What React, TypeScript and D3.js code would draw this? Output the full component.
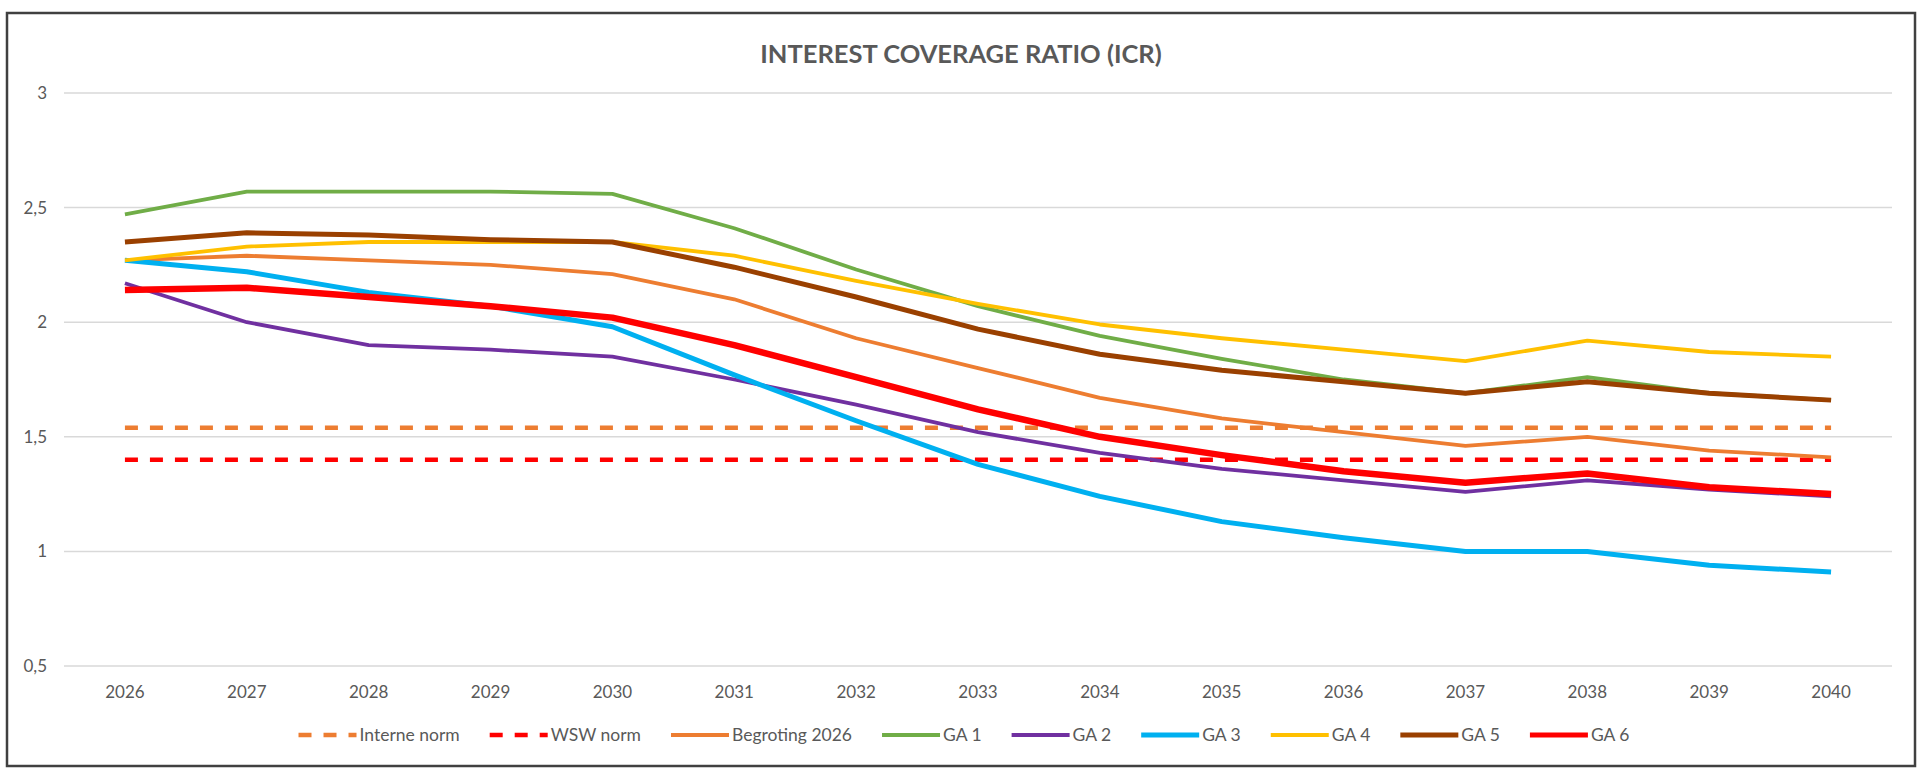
import React, {useRef, useEffect} from 'react'
import * as d3 from 'd3'

const years = ['2026', '2027', '2028', '2029', '2030', '2031', '2032', '2033', '2034', '2035', '2036', '2037', '2038', '2039', '2040']
const yTicks = [0.5, 1, 1.5, 2, 2.5, 3]

const interneNorm = [1.54, 1.54, 1.54, 1.54, 1.54, 1.54, 1.54, 1.54, 1.54, 1.54, 1.54, 1.54, 1.54, 1.54, 1.54]
const wswNorm = [1.4, 1.4, 1.4, 1.4, 1.4, 1.4, 1.4, 1.4, 1.4, 1.4, 1.4, 1.4, 1.4, 1.4, 1.4]
const begroting2026 = [2.27, 2.29, 2.27, 2.25, 2.21, 2.1, 1.93, 1.8, 1.67, 1.58, 1.52, 1.46, 1.5, 1.44, 1.41]
const ga1 = [2.47, 2.57, 2.57, 2.57, 2.56, 2.41, 2.23, 2.07, 1.94, 1.84, 1.75, 1.69, 1.76, 1.69, 1.66]
const ga2 = [2.17, 2.0, 1.9, 1.88, 1.85, 1.75, 1.64, 1.52, 1.43, 1.36, 1.31, 1.26, 1.31, 1.27, 1.24]
const ga3 = [2.27, 2.22, 2.13, 2.07, 1.98, 1.77, 1.57, 1.38, 1.24, 1.13, 1.06, 1.0, 1.0, 0.94, 0.91]
const ga4 = [2.27, 2.33, 2.35, 2.35, 2.35, 2.29, 2.18, 2.08, 1.99, 1.93, 1.88, 1.83, 1.92, 1.87, 1.85]
const ga5 = [2.35, 2.39, 2.38, 2.36, 2.35, 2.24, 2.11, 1.97, 1.86, 1.79, 1.74, 1.69, 1.74, 1.69, 1.66]
const ga6 = [2.14, 2.15, 2.11, 2.07, 2.02, 1.9, 1.76, 1.62, 1.5, 1.42, 1.35, 1.3, 1.34, 1.28, 1.25]

const seriesNames = ['Interne norm', 'WSW norm', 'Begroting 2026', 'GA 1', 'GA 2', 'GA 3', 'GA 4', 'GA 5', 'GA 6']
const seriesValues = [interneNorm, wswNorm, begroting2026, ga1, ga2, ga3, ga4, ga5, ga6]
const seriesColors = ['#ED7D31', '#FF0000', '#ED7D31', '#70AD47', '#7030A0', '#00B0F0', '#FFC000', '#9A4000', '#FF0000']
const seriesWidths = [4.5, 4.5, 3.8, 3.8, 3.8, 5, 3.8, 5, 6.5]
const seriesDash = ['13 12', '13 12', null, null, null, null, null, null, null]

const W = 1920
const H = 773
const FONT = 'Lato, "Open Sans", sans-serif'
const GREY = '#595959'

function App() {
  const ref: any = useRef<SVGSVGElement>(null)

  useEffect(() => {
    const svg = d3.select(ref.current)
    svg.selectAll('*').remove()

    const left = 64
    const right = 1892
    const top = 93
    const bottom = 666

    const x = d3.scaleBand().domain(years).range([left, right]).padding(0)
    const y = d3.scaleLinear().domain([0.5, 3]).range([bottom, top])
    const cx = (d: string) => (x(d) as number) + x.bandwidth() / 2
    const fmt = (v: number) => String(v).replace('.', ',')

    // chart frame
    svg
      .append('rect')
      .attr('x', 7)
      .attr('y', 13)
      .attr('width', 1908)
      .attr('height', 753)
      .attr('fill', '#fff')
      .attr('stroke', '#404040')
      .attr('stroke-width', 2.5)

    // title
    svg
      .append('text')
      .attr('x', 961)
      .attr('y', 54)
      .attr('dy', '0.35em')
      .attr('text-anchor', 'middle')
      .attr('font-family', FONT)
      .attr('font-weight', 700)
      .attr('font-size', 25.5)
      .attr('fill', GREY)
      .text('INTEREST COVERAGE RATIO (ICR)')

    // gridlines + y labels
    const grid = svg.append('g')
    grid
      .selectAll('line')
      .data(yTicks)
      .join('line')
      .attr('x1', left)
      .attr('x2', right)
      .attr('y1', (d) => y(d))
      .attr('y2', (d) => y(d))
      .attr('stroke', '#d9d9d9')
      .attr('stroke-width', 1.5)

    grid
      .selectAll('text')
      .data(yTicks)
      .join('text')
      .attr('x', 47)
      .attr('y', (d) => y(d))
      .attr('dy', '0.35em')
      .attr('text-anchor', 'end')
      .attr('font-family', FONT)
      .attr('font-size', 17)
      .attr('fill', GREY)
      .text(fmt)

    // x labels
    svg
      .append('g')
      .selectAll('text')
      .data(years)
      .join('text')
      .attr('x', cx)
      .attr('y', 692)
      .attr('dy', '0.35em')
      .attr('text-anchor', 'middle')
      .attr('font-family', FONT)
      .attr('font-size', 17)
      .attr('fill', GREY)
      .text((d) => d)

    // series
    const line = d3
      .line<number>()
      .x((d, i) => cx(years[i]))
      .y((d) => y(d))

    svg
      .append('g')
      .selectAll('path')
      .data(seriesValues)
      .join('path')
      .attr('d', (d) => line(d))
      .attr('fill', 'none')
      .attr('stroke', (d, i) => seriesColors[i])
      .attr('stroke-width', (d, i) => seriesWidths[i])
      .attr('stroke-dasharray', (d, i) => seriesDash[i])
      .attr('stroke-linejoin', 'round')

    // legend
    const legend = svg.append('g')
    const items = legend
      .selectAll('g')
      .data(seriesNames)
      .join('g')
    items
      .append('line')
      .attr('x1', 0)
      .attr('x2', 58)
      .attr('y1', 0)
      .attr('y2', 0)
      .attr('stroke', (d, i) => seriesColors[i])
      .attr('stroke-width', (d, i) => Math.min(seriesWidths[i], 5))
      .attr('stroke-dasharray', (d, i) => seriesDash[i])
    items
      .append('text')
      .attr('x', 61)
      .attr('dy', '0.35em')
      .attr('font-family', FONT)
      .attr('font-size', 17.5)
      .attr('fill', GREY)
      .text((d) => d)

    const widths: number[] = []
    items.each(function () {
      const t = d3.select(this).select('text').node() as SVGTextElement
      widths.push(61 + t.getComputedTextLength())
    })
    const gap = 30
    const total = d3.sum(widths) + gap * (widths.length - 1)
    let pos = 964 - total / 2
    items.attr('transform', (d, i) => {
      const tr = `translate(${pos},735)`
      pos += widths[i] + gap
      return tr
    })
  }, [])

  return (
    <svg
      ref={ref}
      width={W}
      height={H}
      style={{position: 'absolute', left: 0, top: 0, background: '#fff'}}
    />
  )
}

export default App
